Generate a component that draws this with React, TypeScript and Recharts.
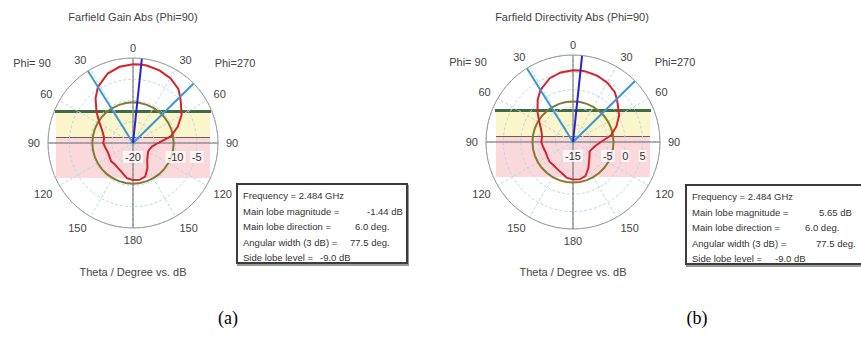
import React from "react";
import { RadarChart, Radar, PolarGrid, PolarAngleAxis, PolarRadiusAxis } from "recharts";

// Theta cut at Phi=90 (left half, negative angles) and Phi=270 (right half, positive angles)
const thetaDeg = [
  -170, -160, -150, -140, -130, -120, -110, -100, -90, -80, -70, -60, -50, -40, -32, -20, -10,
  0, 6, 10, 20, 30, 40, 45.5, 50, 60, 70, 80, 90, 100, 110, 120, 130, 140, 150, 160, 170, 180,
];

const gainDb = [
  -11.6, -12.6, -13.1, -13.4, -13.3, -13.6, -13.7, -13.4, -13.0, -13.1, -12.4, -11.0, -8.8, -6.3, -4.44, -2.6, -1.8,
  -1.5, -1.44, -1.5, -1.8, -2.4, -3.4, -4.44, -5.3, -6.8, -8.8, -11.0, -14.1, -15.4, -15.8, -15.9, -15.5, -14.8, -13.2, -11.6, -11.2, -11.3,
];

const directivityDb = [
  -4.6, -5.5, -6.0, -6.3, -6.2, -6.5, -6.6, -6.3, -5.9, -6.0, -5.3, -3.9, -1.7, 0.8, 2.65, 4.5, 5.3,
  5.6, 5.65, 5.6, 5.3, 4.7, 3.7, 2.65, 1.8, 0.3, -1.7, -3.9, -7.0, -8.5, -9.2, -9.5, -8.8, -7.8, -6.2, -4.6, -4.1, -4.2,
];

// side lobe level circles (main lobe - 9 dB)
const gainSideLobeDb = -10.44;
const directivitySideLobeDb = -3.35;

const mainLobeDeg = 6.0;
const beamEdgesDeg = [-32, 45.5];
const axisSpokesDeg = [-90, 0, 90, 180];
const angleTicks = [-180, -150, -120, -90, -60, -30, 0, 30, 60, 90, 120, 150, 180];

const gainInfo = [
  ["Frequency = 2.484 GHz", ""],
  ["Main lobe magnitude =", "-1.44 dB"],
  ["Main lobe direction =", "6.0 deg."],
  ["Angular width (3 dB) =", "77.5 deg."],
  ["Side lobe level =", "-9.0 dB"],
];
const directivityInfo = [
  ["Frequency = 2.484 GHz", ""],
  ["Main lobe magnitude =", "5.65 dB"],
  ["Main lobe direction =", "6.0 deg."],
  ["Angular width (3 dB) =", "77.5 deg."],
  ["Side lobe level =", "-9.0 dB"],
];

const buildRows = (values: number[], sll: number, top: number) =>
  thetaDeg.map((t, i) => ({
    theta: t,
    pattern: values[i],
    sll,
    mainLobe: t === mainLobeDeg ? top : null,
    beamEdge: beamEdgesDeg.includes(t) ? top : null,
    spoke: axisSpokesDeg.includes(t) ? top : null,
  }));

const FONT = "'Liberation Sans', Arial, sans-serif";

const spokes = (color: string, width: number, cx: number, cy: number) => (props: any) => (
  <g>
    {(props.points || [])
      .filter((p: any) => p.value != null && isFinite(p.x))
      .map((p: any, i: number) => (
        <line key={i} x1={p.cx ?? cx} y1={p.cy ?? cy} x2={p.x} y2={p.y} stroke={color} strokeWidth={width} />
      ))}
  </g>
);

interface CutProps {
  left: number;
  cx: number;
  cy: number;
  r: number;
  rows: any[];
  domain: [number, number];
  tickCount: number;
  shownRadius: number[];
}

function PolarCut({ left, cx, cy, r, rows, domain, tickCount, shownRadius }: CutProps) {
  const angleTick = (props: any) => {
    const { x, y, textAnchor, payload } = props;
    const dy = y > cy + 5 ? 4 : y < cy - 5 ? -2.5 : 0;
    return (
      <text x={x} y={y + dy} textAnchor={textAnchor} dominantBaseline="central" fontSize={11} fill="#444" fontFamily={FONT}>
        {Math.abs(payload.value)}
      </text>
    );
  };
  const radiusTick = (props: any) => {
    const { x, y, payload } = props;
    if (!shownRadius.includes(payload.value)) return <g />;
    const label = String(payload.value);
    const w = label.length * 6 + 2;
    return (
      <g>
        <rect x={x - w / 2} y={y + 8} width={w} height={12} fill="#fff" opacity={0.75} />
        <text x={x} y={y + 14} textAnchor="middle" dominantBaseline="central" fontSize={11} fill="#333" fontFamily={FONT}>
          {label}
        </text>
      </g>
    );
  };

  return (
    <div style={{ position: "absolute", left, top: 0, width: 290, height: 300 }}>
      {/* background bands behind the polar grid */}
      <div style={{ position: "absolute", left: cx - 77, top: cy - 31, width: 154, height: 26, background: "#fbf5cc" }} />
      <div style={{ position: "absolute", left: cx - 77, top: cy - 5, width: 154, height: 40, background: "#fbd8db" }} />
      <div style={{ position: "absolute", left: cx - 78, top: cy - 33, width: 156, height: 3, background: "#3f6b45" }} />
      <div style={{ position: "absolute", left: cx - 77, top: cy - 6, width: 154, height: 1, background: "#7a5656" }} />
      <div style={{ position: "absolute", left: 0, top: 0 }}>
        <RadarChart
          width={290}
          height={300}
          data={rows}
          cx={cx}
          cy={cy}
          outerRadius={r}
          startAngle={270}
          endAngle={-90}
          margin={{ top: 0, right: 0, bottom: 0, left: 0 }}
        >
          <PolarGrid gridType="circle" stroke="#bcd8e2" strokeDasharray="3 2" />
          <PolarAngleAxis
            dataKey="theta"
            type="number"
            domain={[-180, 180]}
            ticks={angleTicks}
            tickCount={13}
            tick={angleTick}
            tickLine={false}
            axisLineType="circle"
            axisLine={{ stroke: "#9a9a9a" }}
          />
          <PolarRadiusAxis angle={0} domain={domain} tickCount={tickCount} axisLine={false} tick={radiusTick} />
          <Radar dataKey="spoke" shape={spokes("#6a6a6a", 1, cx, cy)} isAnimationActive={false} />
          <Radar dataKey="sll" stroke="#857a2e" strokeWidth={2} fill="none" fillOpacity={0} dot={false} isAnimationActive={false} />
          <Radar dataKey="pattern" stroke="#d7222b" strokeWidth={2} fill="none" fillOpacity={0} dot={false} isAnimationActive={false} />
          <Radar dataKey="beamEdge" shape={spokes("#3a98d6", 2, cx, cy)} isAnimationActive={false} />
          <Radar dataKey="mainLobe" shape={spokes("#2626c8", 2, cx, cy)} isAnimationActive={false} />
        </RadarChart>
      </div>
    </div>
  );
}

const Txt = ({ x, y, size = 11, children, family = FONT, color = "#444" }: any) => (
  <div
    style={{
      position: "absolute",
      left: x,
      top: y,
      transform: "translate(-50%, -50%)",
      whiteSpace: "nowrap",
      fontSize: size,
      fontFamily: family,
      color,
      lineHeight: 1,
    }}
  >
    {children}
  </div>
);

const InfoBox = ({ left, top, width, lines, valueX }: any) => (
  <div
    style={{
      position: "absolute",
      left,
      top,
      width,
      height: 81,
      boxSizing: "border-box",
      border: "2px solid #3c3c3c",
      boxShadow: "1px 2px 0 #9a9a9a",
      background: "#fff",
      fontFamily: FONT,
      fontSize: 9.5,
      color: "#333",
    }}
  >
    {lines.map(([label, value]: string[], i: number) => (
      <React.Fragment key={i}>
        <div style={{ position: "absolute", left: 5, top: 5 + i * 15.5, whiteSpace: "nowrap", lineHeight: "12px" }}>{label}</div>
        {value && (
          <div style={{ position: "absolute", left: valueX[i] - 2, top: 5 + i * 15.5, whiteSpace: "nowrap", lineHeight: "12px" }}>
            {value}
          </div>
        )}
      </React.Fragment>
    ))}
  </div>
);

export default function App() {
  return (
    <div style={{ position: "absolute", left: 0, top: 0, width: 861, height: 338, overflow: "hidden", background: "#fff" }}>
      <PolarCut left={0} cx={133} cy={143} r={85} rows={buildRows(gainDb, gainSideLobeDb, 0)} domain={[-20, 0]} tickCount={5} shownRadius={[-20, -10, -5]} />
      <PolarCut left={430} cx={143} cy={142} r={87} rows={buildRows(directivityDb, directivitySideLobeDb, 10)} domain={[-15, 10]} tickCount={6} shownRadius={[-15, -5, 0, 5]} />

      <Txt x={133} y={17}>Farfield Gain Abs (Phi=90)</Txt>
      <Txt x={32} y={63}>Phi= 90</Txt>
      <Txt x={235} y={63}>Phi=270</Txt>
      <Txt x={133} y={272}>Theta / Degree vs. dB</Txt>

      <Txt x={572} y={17}>Farfield Directivity Abs (Phi=90)</Txt>
      <Txt x={468} y={62}>Phi= 90</Txt>
      <Txt x={675} y={62}>Phi=270</Txt>
      <Txt x={573} y={272}>Theta / Degree vs. dB</Txt>

      <InfoBox left={236} top={183} width={172} lines={gainInfo} valueX={[0, 131, 119, 114, 84]} />
      <InfoBox left={685} top={184} width={190} lines={directivityInfo} valueX={[0, 134, 120, 131, 90]} />

      <Txt x={228} y={318} size={18} family="'Liberation Serif', 'Times New Roman', serif" color="#000">(a)</Txt>
      <Txt x={697} y={318} size={18} family="'Liberation Serif', 'Times New Roman', serif" color="#000">(b)</Txt>
    </div>
  );
}
